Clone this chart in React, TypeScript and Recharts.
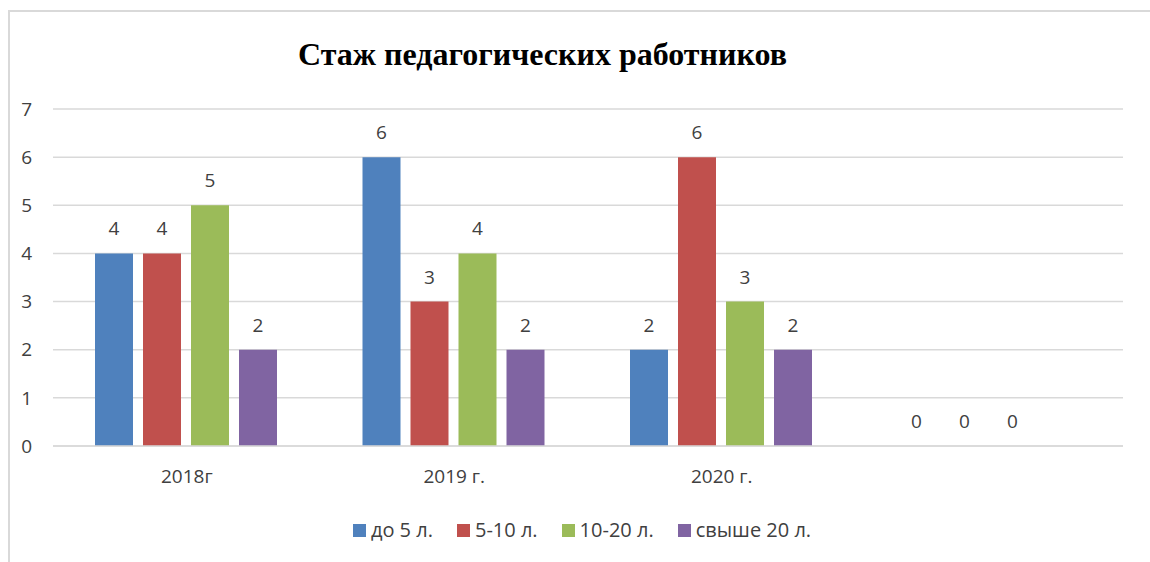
import React from 'react';
import { BarChart, Bar, XAxis, YAxis, CartesianGrid, Legend, LabelList } from 'recharts';

const categories = ['2018г', '2019 г.', '2020 г.', ''];
const seriesNames = ['до 5 л.', '5-10 л.', '10-20 л.', 'свыше 20 л.'];
const upTo5 = [4, 6, 2, 0];
const from5to10 = [4, 3, 6, 0];
const from10to20 = [5, 4, 3, 0];
const over20 = [2, 2, 2, null];
const yTicks = [0, 1, 2, 3, 4, 5, 6, 7];

const colors = ['#4F81BD', '#C0504D', '#9BBB59', '#8064A2'];
const keys = ['s1', 's2', 's3', 's4'];

const data = categories.map((name, i) => ({
  name,
  s1: upTo5[i],
  s2: from5to10[i],
  s3: from10to20[i],
  s4: over20[i],
}));

const FONT = '"Open Sans", sans-serif';
const TEXT = '#404040';

const renderLegend = (props: any) => {
  const items = [...(props.payload || [])].sort(
    (a: any, b: any) => seriesNames.indexOf(a.value) - seriesNames.indexOf(b.value)
  );
  return (
    <div style={{ display: 'flex', justifyContent: 'center', gap: 24, fontFamily: FONT, fontSize: 20, lineHeight: '26px', color: TEXT }}>
      {items.map((p: any) => (
        <div key={p.value} style={{ display: 'flex', alignItems: 'center' }}>
          <span style={{ width: 13, height: 13, background: p.color, display: 'inline-block', marginRight: 5 }} />
          <span>{p.value}</span>
        </div>
      ))}
    </div>
  );
};

export default function App() {
  return (
    <div style={{ position: 'absolute', left: 0, top: 0, width: 1150, height: 562, background: '#fff', overflow: 'hidden' }}>
      <div style={{
        position: 'absolute', left: 8, top: 10, width: 1160, height: 570,
        border: '2px solid #d9d9d9', boxSizing: 'border-box'
      }} />
      <div style={{
        position: 'absolute', left: 0, top: 38, width: 1085, textAlign: 'center',
        fontFamily: '"Liberation Serif", "Times New Roman", serif', fontWeight: 'bold',
        fontSize: 32, lineHeight: '32px', color: '#000'
      }}>
        Стаж педагогических работников
      </div>
      <div style={{ position: 'absolute', left: 0, top: 0 }}>
        <BarChart
          width={1150}
          height={562}
          data={data}
          margin={{ top: 109, right: 27, left: 0, bottom: 50 }}
          barCategoryGap={42}
          barGap={10}
        >
          <CartesianGrid vertical={false} stroke="#d9d9d9" strokeWidth={1.5} />
          <XAxis
            dataKey="name"
            axisLine={{ stroke: '#d9d9d9', strokeWidth: 1.5 }}
            tickLine={false}
            tickSize={0}
            tickMargin={24}
            tick={{ fontSize: 19, fontFamily: FONT, fill: TEXT }}
            height={40}
          />
          <YAxis
            domain={[0, 7]}
            ticks={yTicks}
            axisLine={false}
            tickLine={false}
            tickSize={0}
            tickMargin={21}
            width={53}
            tick={{ fontSize: 19, fontFamily: FONT, fill: TEXT }}
          />
          <Legend
            content={renderLegend}
            wrapperStyle={{ top: 517, left: 7, width: 1150 }}
          />
          {keys.map((k, i) => (
            <Bar key={k} dataKey={k} name={seriesNames[i]} fill={colors[i]} minPointSize={0.01} isAnimationActive={false}>
              <LabelList dataKey={k} position="top" offset={18} style={{ fontSize: 19, fontFamily: FONT, fill: TEXT }} />
            </Bar>
          ))}
        </BarChart>
      </div>
    </div>
  );
}
